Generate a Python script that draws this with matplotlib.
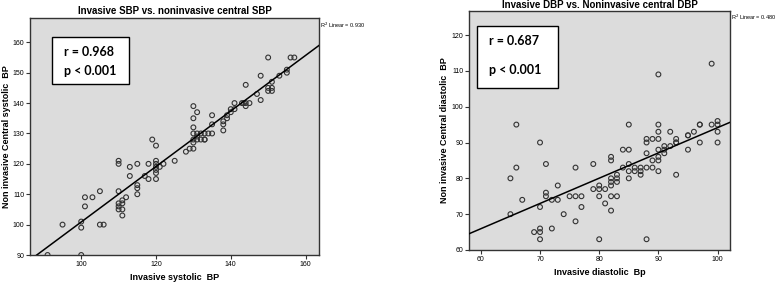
import numpy as np
import matplotlib.pyplot as plt

plt.rcParams['font.family'] = ['Liberation Sans', 'DejaVu Sans']

# 左图: 收缩压 (SBP)
sbp_inv = [91, 100, 95, 100, 100, 101, 101, 103, 105, 105, 106, 110, 110, 110,
           110, 110, 110, 111, 111, 111, 111, 112, 113, 113, 115, 115, 115, 115,
           117, 118, 118, 119, 120, 120, 120, 120, 120, 120, 120, 121, 122, 125,
           128, 129, 130, 130, 131, 133,
           130, 131, 130, 130, 130, 131, 132, 133, 134, 135, 130, 131, 132, 133,
           135, 135, 138, 138, 138, 139, 139, 140, 141, 140, 141, 143, 143.5, 144,
           144, 145, 144, 147, 148, 148, 150, 150, 150, 151, 151, 151, 153, 155,
           155, 156, 157]
sbp_non = [90, 90, 100, 101, 99, 109, 106, 109, 111, 100, 100, 111, 121, 120,
           107, 106, 105, 107, 105, 103, 108, 109, 119, 116, 120, 113, 112, 110,
           116, 120, 115, 128, 126, 121, 120, 119, 118, 117, 115, 119, 120, 121,
           124, 125, 125, 127, 128, 128,
           139, 137, 135, 132, 130, 130, 130, 130, 130, 130, 128, 129, 128, 128,
           136, 133, 134, 133, 131, 135, 136, 138, 138, 137, 140, 140, 140, 140,
           139, 140, 146, 143, 149, 141, 155, 145, 144, 145, 144, 147, 149, 151,
           150, 155, 155]

# 右图: 舒张压 (DBP)
dbp_inv = [66, 85, 90, 90, 90, 89, 92, 93, 95, 96, 97, 99, 99, 100, 100, 100,
           70, 66, 65, 67, 65, 71, 71, 71, 70, 69, 70, 70, 70, 72, 73, 72, 73,
           74, 75, 76, 76, 76, 77, 77, 79, 79, 80, 80, 80, 80, 81, 81, 82, 82,
           82, 82, 82, 82, 82, 83, 83, 83, 83, 84, 85, 84, 85, 85, 85, 86, 86,
           87, 87, 87, 88, 88, 88, 88, 89, 89, 90, 90, 90, 90, 91, 91, 91, 92,
           93, 93, 95, 97, 100, 88, 90, 93, 95, 97]
dbp_non = [95, 95, 109, 95, 93, 91, 93, 91, 92, 93, 95, 112, 95, 96, 95, 93,
           90, 83, 80, 74, 70, 84, 76, 75, 72, 65, 66, 65, 63, 74, 74, 66, 78,
           70, 75, 75, 68, 83, 75, 72, 84, 77, 78, 77, 75, 63, 77, 73, 86, 85,
           80, 79, 78, 75, 71, 81, 80, 79, 75, 88, 88, 83, 84, 82, 80, 83, 82,
           83, 82, 81, 90, 87, 83, 63, 83, 85, 88, 86, 85, 82, 88, 87, 89, 89,
           90, 81, 88, 90, 90, 91, 91, 90, 92, 95]

left_title = 'Invasive SBP vs. noninvasive central SBP'
right_title = 'Invasive DBP vs. Noninvasive central DBP'
left_r2 = 'R$^2$ Linear = 0.930'
right_r2 = 'R$^2$ Linear = 0.480'
left_stats = ['r = 0.968', 'p < 0.001']
right_stats = ['r = 0.687', 'p < 0.001']

fig = plt.figure(figsize=(7.78, 2.82), dpi=100)
W, H = 778, 282


def make_ax(x0, y0, x1, y1):
    return fig.add_axes([x0 / W, 1 - y1 / H, (x1 - x0) / W, (y1 - y0) / H])


def style(ax):
    ax.set_facecolor('#dcdcdc')
    for s in ax.spines.values():
        s.set_color('#333333')
        s.set_linewidth(1.0)
    ax.tick_params(labelsize=5, length=3, width=0.8, color='#333333', pad=1)


def draw(ax, x, y, xlim, ylim):
    ax.scatter(x, y, s=12, facecolors='none', edgecolors='#333333', linewidths=0.8, zorder=3)
    k, b = np.polyfit(x, y, 1)
    xs = np.array(xlim)
    ax.plot(xs, k * xs + b, color='black', lw=1.1, zorder=4)
    ax.set_xlim(xlim)
    ax.set_ylim(ylim)


# 左图
ax1 = make_ax(30, 18, 319, 255)
style(ax1)
draw(ax1, sbp_inv, sbp_non, (86.3, 163.6), (90, 168))
ax1.set_xticks([100, 120, 140, 160])
ax1.set_yticks([90, 100, 110, 120, 130, 140, 150, 160])
ax1.set_title(left_title, fontsize=7, fontweight='bold', pad=3)
ax1.set_xlabel('Invasive systolic  BP', fontsize=6.5, fontweight='bold', va='center')
ax1.xaxis.set_label_coords(0.5, -0.097)
ax1.set_ylabel('Non invasive Central systolic  BP', fontsize=6.5, fontweight='bold', va='center')
ax1.yaxis.set_label_coords(-0.083, 0.5)
ax1.text(1.003, 0.97, left_r2, transform=ax1.transAxes, fontsize=4, va='center', ha='left')
box1 = plt.Rectangle((52 / W, 1 - 84 / H), 77 / W, 47 / H, transform=fig.transFigure,
                     facecolor='white', edgecolor='black', lw=1.0, zorder=5)
fig.patches.append(box1)
fig.text(64 / W, 1 - 52 / H, left_stats[0], fontsize=9, family='Lato', fontweight='bold', va='center', zorder=6)
fig.text(64 / W, 1 - 71 / H, left_stats[1], fontsize=9, family='Lato', fontweight='bold', va='center', zorder=6)

# 右图
ax2 = make_ax(469, 11, 730, 250)
style(ax2)
draw(ax2, dbp_inv, dbp_non, (58, 102.1), (60, 126.7))
ax2.set_xticks([60, 70, 80, 90, 100])
ax2.set_yticks([60, 70, 80, 90, 100, 110, 120])
ax2.set_title(right_title, fontsize=7, fontweight='bold', pad=2)
ax2.set_xlabel('Invasive diastolic  Bp', fontsize=6.5, fontweight='bold', va='center')
ax2.xaxis.set_label_coords(0.5, -0.096)
ax2.set_ylabel('Non invasive Central diastolic  BP', fontsize=6.5, fontweight='bold', va='center')
ax2.yaxis.set_label_coords(-0.092, 0.5)
ax2.text(1.002, 0.975, right_r2, transform=ax2.transAxes, fontsize=4, va='center', ha='left')
box2 = plt.Rectangle((477 / W, 1 - 88 / H), 81 / W, 62 / H, transform=fig.transFigure,
                     facecolor='white', edgecolor='black', lw=1.0, zorder=5)
fig.patches.append(box2)
fig.text(489 / W, 1 - 41 / H, right_stats[0], fontsize=9, family='Lato', fontweight='bold', va='center', zorder=6)
fig.text(489 / W, 1 - 70 / H, right_stats[1], fontsize=9, family='Lato', fontweight='bold', va='center', zorder=6)

fig.savefig('out.png', dpi=100)
